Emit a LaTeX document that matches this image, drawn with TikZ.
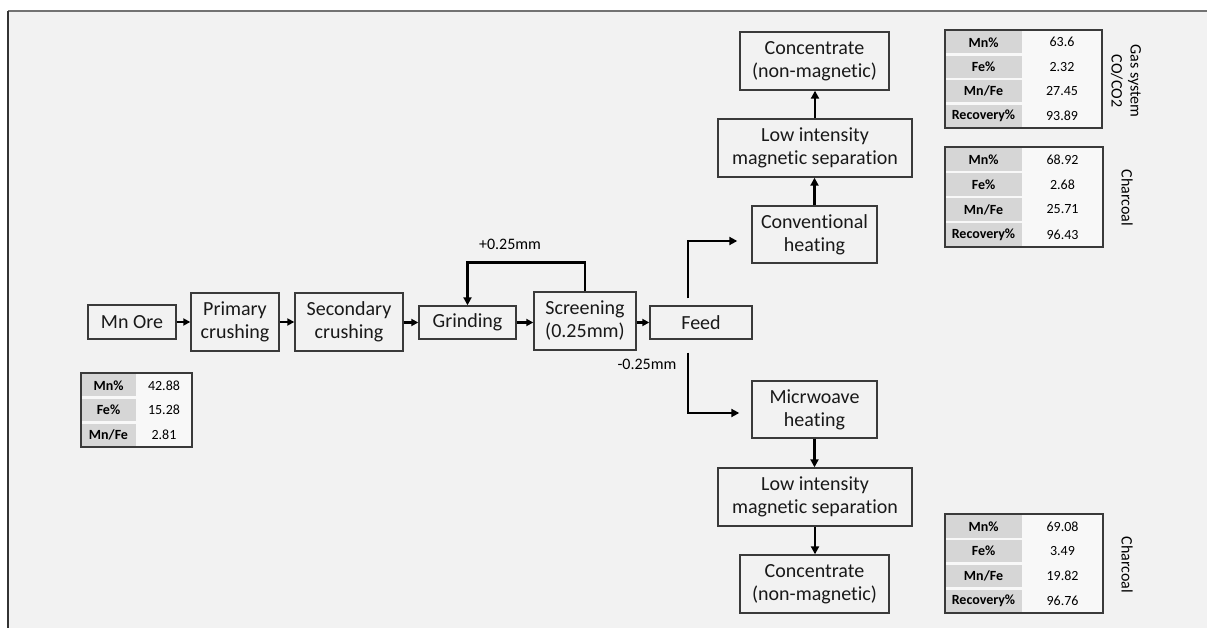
\documentclass[tikz,border=0pt]{standalone}
\usepackage{fontspec}
\setmainfont[Ligatures={NoCommon}]{Carlito}
\usetikzlibrary{arrows.meta,calc}
\definecolor{bgc}{HTML}{F2F2F2}
\definecolor{cellg}{HTML}{D6D6D6}
\definecolor{cellw}{HTML}{F8F8F8}
\definecolor{boxline}{HTML}{3A3A3A}
\tikzset{
  box/.style={draw=boxline, line width=1.4pt, fill=bgc, align=center, inner sep=0pt,
    font=\fontsize{20}{23}\selectfont, text=black!90},
  arr/.style={line width=2.2pt, -{Triangle[length=7pt,width=7pt]}},
  farr/.style={line width=2.8pt, -{Triangle[length=8pt,width=8pt]}},
  labcell/.style={fill=cellg, inner sep=0pt, font=\fontsize{14}{16}\selectfont\bfseries},
  valcell/.style={inner sep=0pt, font=\fontsize{14}{16}\selectfont},
  tabframe/.style={draw=boxline, line width=1.4pt},
  smalllab/.style={font=\fontsize{16}{18}\selectfont},
  rotcap/.style={rotate=-90, align=center, font=\fontsize{16}{19}\selectfont},
}
% #1 name, #2 x0, #3 y0, #4 w1, #5 w2, #6 row height, #7 rows, #8 list
\newcommand{\mtab}[8]{%
  \fill[cellw] (#2,#3) rectangle ({#2+#4+#5},{#3+#6*#7});
  \foreach \l/\v [count=\i] in {#8} {
    \node[labcell, minimum width=#4, minimum height={#6-2.5}] (#1l\i) at ({#2+#4/2},{#3+#6*\i-#6/2}) {\l};
    \node[valcell, minimum width=#5, minimum height=#6] (#1v\i) at ({#2+#4+#5/2},{#3+#6*\i-#6/2}) {\v};
  }
  \draw[tabframe] (#2,#3) rectangle ({#2+#4+#5},{#3+#6*#7});
}
\begin{document}
\begin{tikzpicture}[x=1pt,y=-1pt]
\useasboundingbox (0,0) rectangle (1207,628);
\fill[white] (0,0) rectangle (1207,628);
\fill[bgc] (8,11) rectangle (1207,628);
\draw[line width=1.5pt, draw=black!55] (8,11) -- (1207,11);
\draw[line width=1.8pt, draw=black!80] (8,11) -- (8,628);

% main line
\node[box, minimum width=88, minimum height=34] (ore) at (132,322) {Mn Ore};
\node[box, minimum width=88, minimum height=58] (prim) at (235,322) {Primary\\crushing};
\node[box, minimum width=108, minimum height=58] (sec) at (349,322) {Secondary\\crushing};
\node[box, minimum width=97, minimum height=33] (grind) at (467.5,322.5) {Grinding};
\node[box, minimum width=102, minimum height=58] (screen) at (585,321) {Screening\\(0.25mm)};
\node[box, minimum width=102, minimum height=33] (feed) at (701,322.5) {Feed};

% upper branch
\node[box, minimum width=125, minimum height=57] (conv) at (814.5,234.5) {Conventional\\heating};
\node[box, minimum width=194, minimum height=58] (limsT) at (815,148) {Low intensity\\magnetic separation};
\node[box, minimum width=149, minimum height=58] (concT) at (814.5,61) {Concentrate\\(non-magnetic)};

% lower branch
\node[box, minimum width=125, minimum height=57] (micro) at (814.5,409.5) {Micrwoave\\heating};
\node[box, minimum width=194, minimum height=58] (limsB) at (815,497) {Low intensity\\magnetic separation};
\node[box, minimum width=149, minimum height=58] (concB) at (814.5,584) {Concentrate\\(non-magnetic)};

% connectors
\draw[arr] (ore) -- (prim);
\draw[arr] (prim) -- (sec);
\draw[arr] (sec.east |- grind.west) -- (grind);
\draw[arr] (grind.east) -- (grind.east -| screen.west);
\draw[arr] (screen.east |- feed.west) -- (feed);
\draw[farr] (screen.north) -- ++(0,-29) -| (grind.north);
\node[smalllab] (plus) at (510,244) {+0.25mm};
\node[smalllab] (minus) at (647,364) {-0.25mm};

\coordinate (fu) at ($(feed.north)+(-13,-7)$);
\coordinate (cu) at ($(conv.west)+(-14,6.5)$);
\draw[farr] (fu) |- (cu);
\coordinate (fd) at ($(feed.south)+(-13,13)$);
\coordinate (md) at ($(micro.west)+(-12,3.5)$);
\draw[farr] (fd) |- (md);

\draw[farr] (conv.north) -- (conv.north |- limsT.south);
\draw[farr] (limsT.north) -- (limsT.north |- concT.south);
\draw[farr] (micro.south) -- (micro.south |- limsB.north);
\draw[farr] (limsB.south) -- (limsB.south |- concB.north);

% tables
\mtab{ta}{81}{373}{55}{56}{24.67}{3}{Mn\%/42.88, Fe\%/15.28, {Mn/Fe}/2.81}
\mtab{tb}{945}{30}{77}{80}{24.5}{4}{Mn\%/63.6, Fe\%/2.32, {Mn/Fe}/27.45, Recovery\%/93.89}
\mtab{tc}{945}{147}{77}{81}{25}{4}{Mn\%/68.92, Fe\%/2.68, {Mn/Fe}/25.71, Recovery\%/96.43}
\mtab{td}{945}{514}{77}{81}{24.75}{4}{Mn\%/69.08, Fe\%/3.49, {Mn/Fe}/19.82, Recovery\%/96.76}

\node[rotcap] (capb) at (1126,81) {Gas system\\CO/CO2};
\node[rotcap] (capc) at (1127,198) {Charcoal};
\node[rotcap] (capd) at (1127,565) {Charcoal};
\end{tikzpicture}
\end{document}
